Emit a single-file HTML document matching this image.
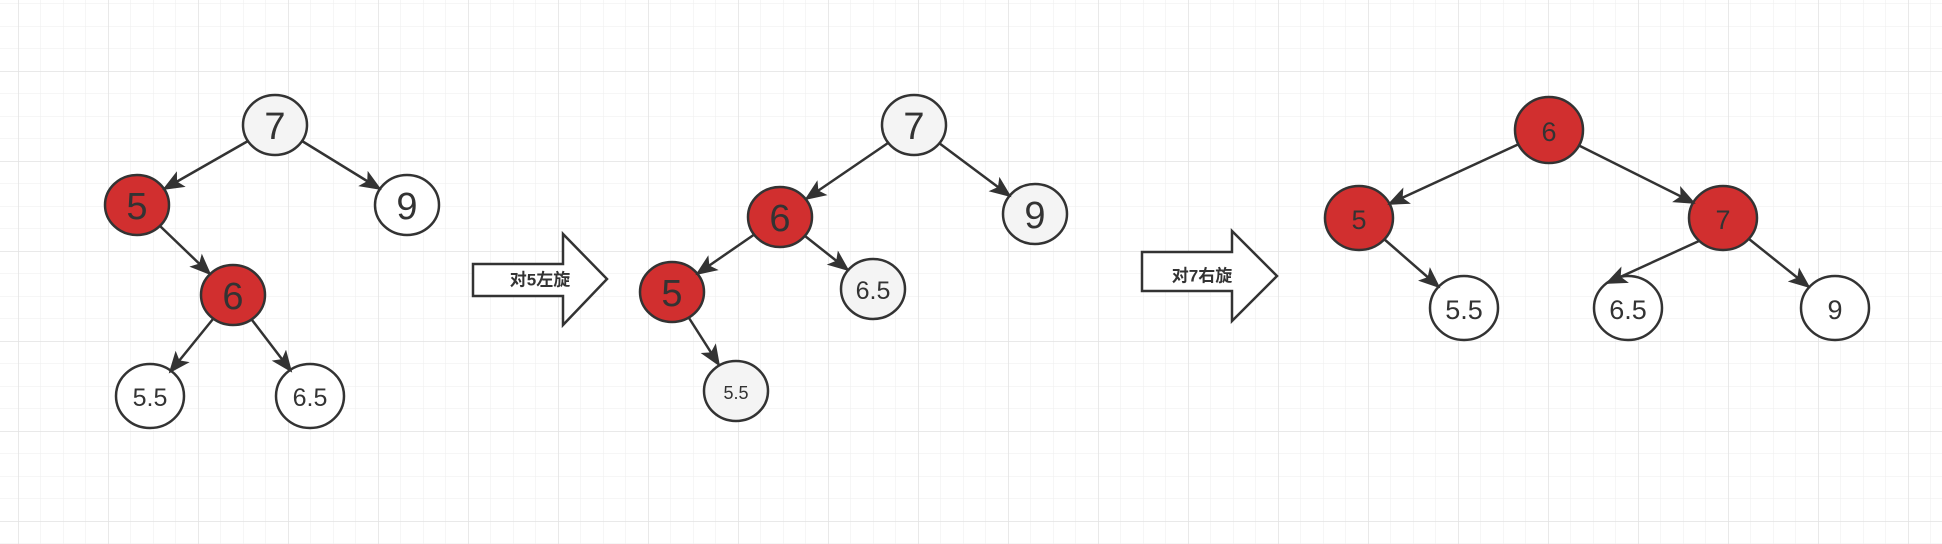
<!DOCTYPE html>
<html><head><meta charset="utf-8"><style>
html,body{margin:0;padding:0;background:#fff}
svg{display:block}
text{font-family:"Liberation Sans","Noto Sans CJK SC",sans-serif;fill:#333;text-anchor:middle;dominant-baseline:central}
</style></head><body>
<svg width="1942" height="544" viewBox="0 0 1942 544" xmlns="http://www.w3.org/2000/svg">
<defs>
<pattern id="minor" x="18" y="3.5" width="22.5" height="22.5" patternUnits="userSpaceOnUse">
<path d="M0 0H22.5M0 0V22.5" stroke="#eeeeee" stroke-width="1" fill="none"/>
</pattern>
<pattern id="major" x="18" y="-19" width="90" height="90" patternUnits="userSpaceOnUse">
<path d="M0 0H90M0 0V90" stroke="#e2e2e2" stroke-width="1.5" fill="none"/>
</pattern>
<marker id="ah" markerUnits="userSpaceOnUse" markerWidth="24" markerHeight="20" refX="20" refY="9" orient="auto">
<path d="M0 0L22 9L0 18L5 9Z" fill="#333"/>
</marker>
</defs>
<rect width="1942" height="544" fill="url(#minor)"/>
<rect width="1942" height="544" fill="url(#major)"/>

<g stroke="#333" stroke-width="2.5">
<ellipse cx="275" cy="125" rx="32" ry="30" fill="#f4f4f4"/>
<ellipse cx="137" cy="205" rx="32" ry="30" fill="#d12f2f"/>
<ellipse cx="407" cy="205" rx="32" ry="30" fill="#fff"/>
<ellipse cx="233" cy="295" rx="32" ry="30" fill="#d12f2f"/>
<ellipse cx="150" cy="396" rx="34" ry="32" fill="#fff"/>
<ellipse cx="310" cy="396" rx="34" ry="32" fill="#fff"/>

<ellipse cx="914" cy="125" rx="32" ry="30" fill="#f4f4f4"/>
<ellipse cx="780" cy="217" rx="32" ry="30" fill="#d12f2f"/>
<ellipse cx="1035" cy="214" rx="32" ry="30" fill="#f4f4f4"/>
<ellipse cx="672" cy="292" rx="32" ry="30" fill="#d12f2f"/>
<ellipse cx="873" cy="289" rx="32" ry="30" fill="#f4f4f4"/>
<ellipse cx="736" cy="391" rx="32" ry="30" fill="#f4f4f4"/>

<ellipse cx="1549" cy="130" rx="34" ry="33" fill="#d12f2f"/>
<ellipse cx="1359" cy="218" rx="34" ry="32" fill="#d12f2f"/>
<ellipse cx="1723" cy="218" rx="34" ry="32" fill="#d12f2f"/>
<ellipse cx="1464" cy="308" rx="34" ry="32" fill="#fff"/>
<ellipse cx="1628" cy="308" rx="34" ry="32" fill="#fff"/>
<ellipse cx="1835" cy="308" rx="34" ry="32" fill="#fff"/>
</g>

<g stroke="#333" stroke-width="2.5" fill="none" marker-end="url(#ah)">
<line x1="248" y1="141" x2="164" y2="189"/>
<line x1="302" y1="141" x2="380" y2="189"/>
<line x1="160" y1="226" x2="210" y2="274"/>
<line x1="213" y1="319" x2="170" y2="372"/>
<line x1="252" y1="320" x2="291" y2="371"/>

<line x1="888" y1="143" x2="806" y2="199"/>
<line x1="939" y1="143" x2="1010" y2="196"/>
<line x1="755" y1="234" x2="697" y2="274"/>
<line x1="805" y1="236" x2="848" y2="270"/>
<line x1="689" y1="318" x2="719" y2="365"/>

<line x1="1519" y1="144" x2="1389" y2="204"/>
<line x1="1578" y1="145" x2="1694" y2="203"/>
<line x1="1384" y1="239" x2="1439" y2="287"/>
<line x1="1699" y1="241" x2="1607" y2="283"/>
<line x1="1749" y1="239" x2="1809" y2="287"/>
</g>

<g font-size="38">
<text x="275" y="127">7</text>
<text x="137" y="207">5</text>
<text x="407" y="207">9</text>
<text x="233" y="297">6</text>
<text x="914" y="127">7</text>
<text x="780" y="219">6</text>
<text x="1035" y="216">9</text>
<text x="672" y="294">5</text>
</g>
<g font-size="25">
<text x="150" y="398">5.5</text>
<text x="310" y="398">6.5</text>
<text x="873" y="291">6.5</text>
</g>
<text x="736" y="393" font-size="18">5.5</text>
<g font-size="27">
<text x="1549" y="132">6</text>
<text x="1359" y="220">5</text>
<text x="1723" y="220">7</text>
<text x="1464" y="310">5.5</text>
<text x="1628" y="310">6.5</text>
<text x="1835" y="310">9</text>
</g>

<g stroke="#333" stroke-width="2.5" fill="#fff">
<path d="M473 264H563V234L607 279L563 325V296H473Z"/>
<path d="M1142 252H1232V231L1277 276L1232 321V291H1142Z"/>
</g>
<text x="540" y="280" font-size="17" font-weight="bold">对5左旋</text>
<text x="1202" y="276" font-size="17" font-weight="bold">对7右旋</text>
</svg>
</body></html>
